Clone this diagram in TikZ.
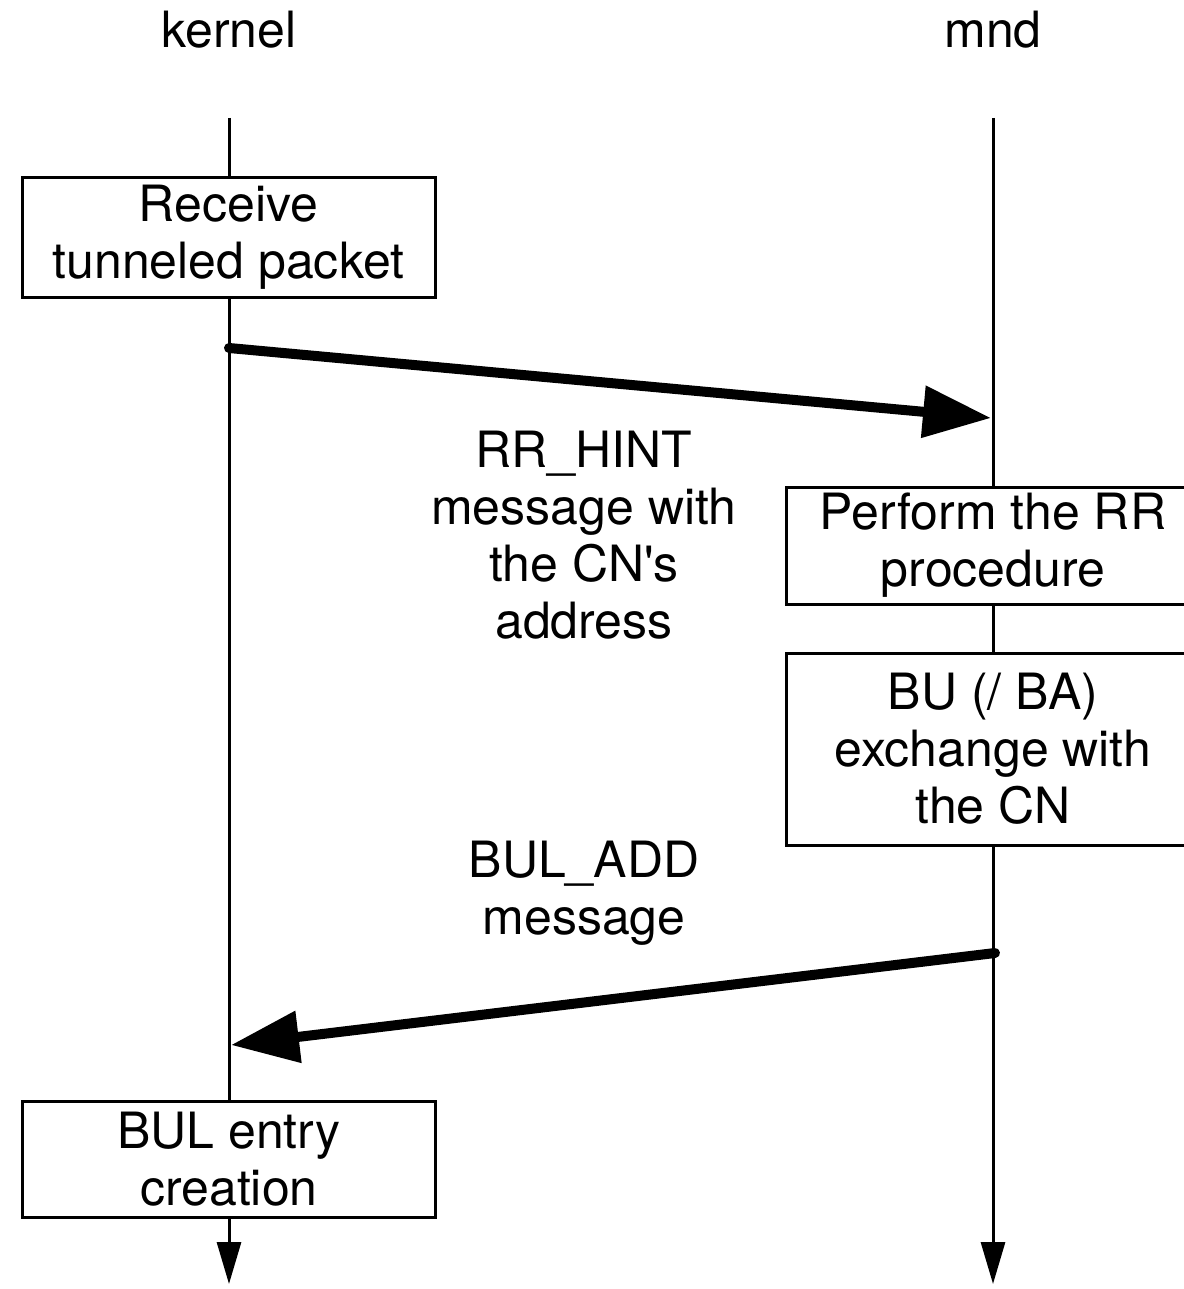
\documentclass[tikz,border=0pt]{standalone}
\usepackage{fontspec}
\setmainfont{TeX Gyre Heros}
\usetikzlibrary{arrows.meta,positioning}
\tikzset{>={Latex}}

\begin{document}
\begin{tikzpicture}[x=0.5pt, y=-0.5pt, line join=miter,
  every node/.style={font=\fontsize{25pt}{28.5pt}\selectfont, align=center},
  box/.style={draw, line width=1.5pt, fill=white, minimum width=206.5pt, inner sep=0pt},
  life/.style={line width=1.5pt, -{Triangle[length=21pt,width=12pt]}},
  msg/.style={line width=5pt, line cap=round, -{Triangle[length=34pt,width=25pt]}}]

  \useasboundingbox (0,0) rectangle (1183,1289);

  % Lifelines
  \coordinate (kTop) at (229,118);
  \coordinate (kBot) at (229,1284);
  \coordinate (mTop) at (993,118);
  \coordinate (mBot) at (993,1284);

  \node[anchor=base] (kernel) at (229,48) {kernel};
  \node[anchor=base] (mnd) at (993,48) {mnd};

  \draw[life] (kTop) -- (kBot);
  \draw[life] (mTop) -- (mBot);

  % Actions
  \node[box, minimum height=59.5pt] (recv) at (228.5,237.5) {Receive\\tunneled packet};
  \node[box, minimum height=58.5pt] (perf) at (993,545.5) {Perform the RR\\procedure};
  \node[box, minimum height=96pt] (bu) at (993,749) {BU (/ BA)\\exchange with\\the CN};
  \node[box, minimum height=58pt] (bul) at (229,1159) {BUL entry\\creation};

  % Messages
  \coordinate (hintA) at (229,348);
  \coordinate (hintB) at (991,418);
  \coordinate (addA) at (995,953);
  \coordinate (addB) at (231,1045);

  \draw[msg] (hintA) -- (hintB);
  \draw[msg] (addA) -- (addB);

  \node (hint) at (584,535) {RR\_HINT\\message with\\the CN\textquotesingle s\\address};
  \node (add) at (584,893) {BUL\_ADD\\message};
\end{tikzpicture}
\end{document}
